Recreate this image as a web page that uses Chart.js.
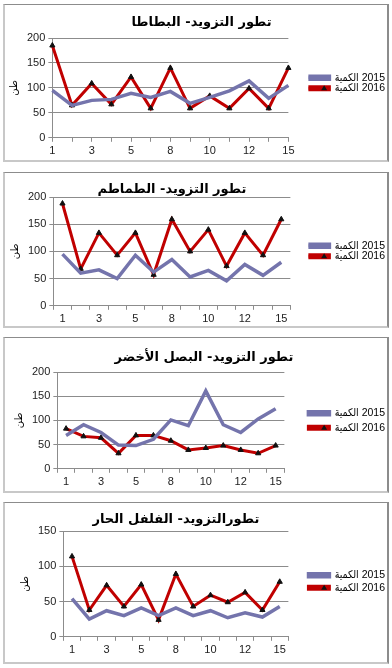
<!DOCTYPE html>
<html>
<head>
<meta charset="utf-8">
<script src="https://cdn.jsdelivr.net/npm/chart.js@4.4.1/dist/chart.umd.min.js"></script>
<style>
  body { margin: 0; background: #fff; width: 392px; height: 668px; position: relative; overflow: hidden; }
  .panel {
    position: absolute; left: 3px; width: 386px; box-sizing: border-box; background: #fff;
    border-top: 1px solid #8c8c8c; border-right: 2px solid #8c8c8c;
    border-left: 2px solid #c8c8c8; border-bottom: 2px solid #c8c8c8;
  }
  .inner { position: relative; width: 100%; height: 100%; }
</style>
</head>
<body>
<div class="panel" style="top:4px;height:158px"><div class="inner"><canvas id="c1"></canvas></div></div>
<div class="panel" style="top:172px;height:156px"><div class="inner"><canvas id="c2"></canvas></div></div>
<div class="panel" style="top:337px;height:156px"><div class="inner"><canvas id="c3"></canvas></div></div>
<div class="panel" style="top:502px;height:162px"><div class="inner"><canvas id="c4"></canvas></div></div>

<script>
// أيام الشهر (الفئات)
const days = ['1', '2', '3', '4', '5', '7', '8', '9', '10', '11', '12', '14', '15'];

// البطاطا
const potato2015 = [95, 65, 75, 77, 89, 81, 93, 69, 81, 94, 114, 79, 105];
const potato2016 = [185, 65, 109, 67, 122, 59, 140, 59, 84, 59, 99, 59, 140];
// الطماطم
const tomato2015 = [95, 60, 66, 50, 93, 62, 85, 53, 65, 46, 76, 56, 80];
const tomato2016 = [188, 68, 134, 93, 134, 57, 159, 100, 140, 73, 134, 93, 159];
// البصل الأخضر
const onion2015 = [69, 91, 75, 49, 48, 61, 101, 89, 161, 91, 75, 103, 124];
const onion2016 = [83, 67, 64, 32, 69, 69, 58, 39, 43, 48, 39, 32, 48];
// الفلفل الحار
const pepper2015 = [54, 25, 37, 30, 41, 30, 41, 30, 37, 27, 34, 28, 43];
const pepper2016 = [114, 38, 73, 43, 74, 24, 89, 43, 59, 49, 63, 38, 78];

const titles = [
  'تطور التزويد- البطاطا',
  'تطور التزويد- الطماطم',
  'تطور التزويد- البصل الأخضر',
  'تطورالتزويد- الفلفل الحار'
];
const yMaxes = [200, 200, 200, 150];
const seriesLabels = ['\u200Eالكمية\u200E 2015', '\u200Eالكمية\u200E 2016'];
const unitLabel = 'طن';

const BLUE = '#7474ac';
const RED = '#c00000';
const GRID = '#8c8c8c';
const FONT = "'Liberation Sans', Arial, 'DejaVu Sans', sans-serif";
const LEGEND_FONT = "'Liberation Sans', 'DejaVu Sans Condensed', 'DejaVu Sans', sans-serif";

// مثلث صغير على خط سلسلة 2016 في وسيلة الإيضاح
const legendMarker = {
  id: 'legendMarker',
  afterDraw(chart) {
    const lg = chart.legend;
    if (!lg || !lg.legendHitBoxes || !lg.legendHitBoxes[1]) return;
    const box = lg.legendHitBoxes[1];
    const bw = lg.options.labels.boxWidth;
    const cx = box.left + bw * 0.75;
    const cy = box.top + box.height / 2;
    const ctx = chart.ctx;
    ctx.save();
    ctx.fillStyle = '#111';
    ctx.beginPath();
    ctx.moveTo(cx, cy - 3);
    ctx.lineTo(cx + 3, cy + 2);
    ctx.lineTo(cx - 3, cy + 2);
    ctx.closePath();
    ctx.fill();
    ctx.restore();
  }
};

function makeChart(id, title, data2015, data2016, yMax, lay) {
  const el = document.getElementById(id);
  return new Chart(el.getContext('2d'), {
    type: 'line',
    data: {
      labels: days,
      datasets: [
        {
          label: seriesLabels[0],
          data: data2015,
          borderColor: BLUE,
          backgroundColor: BLUE,
          borderWidth: 3.5,
          pointRadius: 0,
          tension: 0
        },
        {
          label: seriesLabels[1],
          data: data2016,
          borderColor: RED,
          backgroundColor: RED,
          borderWidth: 3,
          pointStyle: 'triangle',
          pointRadius: 3,
          pointBackgroundColor: '#111',
          pointBorderColor: '#111',
          pointBorderWidth: 1,
          tension: 0
        }
      ]
    },
    options: {
      responsive: true,
      maintainAspectRatio: false,
      animation: false,
      layout: { padding: lay.padding },
      scales: {
        x: {
          offset: !lay.onTicks,
          grid: {
            display: true,
            offset: !lay.onTicks,
            drawOnChartArea: false,
            drawTicks: true,
            tickLength: 4,
            color: GRID
          },
          border: { display: true, color: GRID },
          ticks: {
            autoSkip: false,
            maxRotation: 0,
            color: '#222',
            font: { family: FONT, size: 11 },
            padding: 3,
            callback: (v, i) => (i % 2 === 0 ? days[i] : '')
          }
        },
        y: {
          min: 0,
          max: yMax,
          grid: { color: GRID, tickLength: 4 },
          border: { display: true, color: GRID },
          ticks: {
            stepSize: 50,
            color: '#222',
            font: { family: FONT, size: 11 },
            padding: 3
          },
          title: {
            display: true,
            text: unitLabel,
            color: '#000',
            font: { family: "'DejaVu Sans', sans-serif", size: 10 },
            padding: { top: 0, bottom: 4 }
          }
        },
        // محور فارغ يترك فراغا بين منطقة الرسم ووسيلة الإيضاح
        gap: {
          position: 'right',
          display: true,
          grid: { display: false, drawTicks: false },
          border: { display: false },
          ticks: { display: false },
          afterFit: (scale) => { scale.width = lay.gap; }
        }
      },
      plugins: {
        title: {
          display: true,
          text: title,
          color: '#000',
          fullSize: lay.titleFull,
          font: { family: "'DejaVu Sans', sans-serif", size: 13, weight: 'bold', lineHeight: 1 },
          padding: lay.title
        },
        legend: {
          position: 'right',
          fullSize: lay.legendFull,
          maxWidth: 120,
          textDirection: 'ltr',
          labels: {
            boxWidth: 21,
            boxHeight: 3,
            padding: lay.legendPad,
            color: '#000',
            font: { family: LEGEND_FONT, size: 10.5 }
          }
        },
        tooltip: { enabled: false }
      }
    },
    plugins: [legendMarker]
  });
}

const layouts = [
  { onTicks: true, titleFull: true, legendFull: true, gap: 20, legendPad: 0,
    title: { top: 11.5, bottom: 8.5 }, padding: { left: 3, right: -8, top: 0, bottom: -1 } },
  { onTicks: false, titleFull: false, legendFull: true, gap: 18, legendPad: 0,
    title: { top: 10.5, bottom: 0.5 }, padding: { left: 4, right: -8, top: 0, bottom: -3 } },
  { onTicks: false, titleFull: true, legendFull: false, gap: 20, legendPad: 4,
    title: { top: 13.5, bottom: 7.5 }, padding: { left: 8, right: -8, top: 0, bottom: -1 } },
  { onTicks: false, titleFull: false, legendFull: true, gap: 18, legendPad: 2,
    title: { top: 10.5, bottom: 4.5 }, padding: { left: 14, right: -8, top: 0, bottom: 2 } }
];

makeChart('c1', titles[0], potato2015, potato2016, yMaxes[0], layouts[0]);
makeChart('c2', titles[1], tomato2015, tomato2016, yMaxes[1], layouts[1]);
makeChart('c3', titles[2], onion2015, onion2016, yMaxes[2], layouts[2]);
makeChart('c4', titles[3], pepper2015, pepper2016, yMaxes[3], layouts[3]);
</script>
</body>
</html>
